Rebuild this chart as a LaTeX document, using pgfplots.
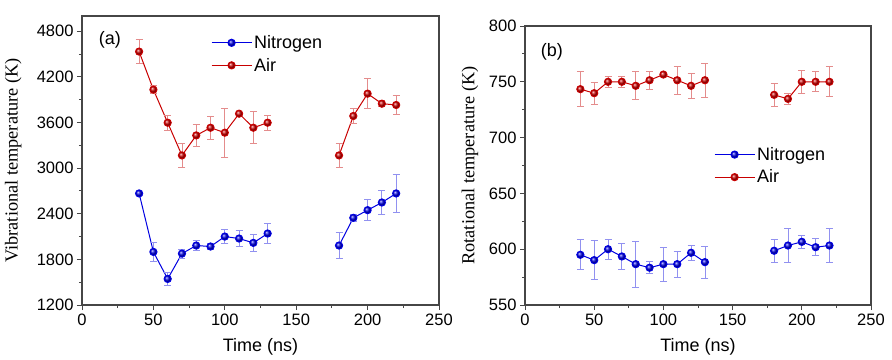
\documentclass[border=0pt]{standalone}
\usepackage{fontspec}
\setmainfont{Liberation Sans}
\newfontfamily\serifont{Liberation Serif}
\usepackage{pgfplots}
\pgfplotsset{compat=1.18}
\definecolor{myred}{RGB}{200,0,0}
\definecolor{myblue}{RGB}{0,0,225}
\definecolor{lightred}{RGB}{228,140,140}
\definecolor{lightblue}{RGB}{145,145,240}
\definecolor{framegray}{RGB}{70,70,70}
\pgfplotsset{
  common/.style={
    scale only axis,
    anchor=south west,
    xmin=0, xmax=250,
    xtick={0,50,100,150,200,250},
    minor x tick num=1,
    minor y tick num=1,
    axis line style={framegray, line width=1.1pt},
    tick style={framegray, line width=0.9pt},
    major tick length=5pt,
    minor tick length=3pt,
    tick align=outside,
    xtick pos=left, ytick pos=left,
    /pgf/number format/assume math mode=true,
    /pgf/number format/1000 sep={},
    tick label style={font=\fontsize{16.5}{18}\selectfont},
    xlabel style={font=\fontsize{18}{20}\selectfont, at={(axis description cs:0.5,0)}, anchor=center, yshift=-42pt},
    legend cell align=left,
    legend image code/.code={\draw[mark repeat=2, mark phase=2, ##1] plot coordinates {(0pt,0pt) (20pt,0pt) (40pt,0pt)};},
  },
  redp/.style={color=myred, line width=1pt, mark=ball, mark size=3.6pt, mark options={ball color=myred},
    error bars/y dir=both, error bars/y explicit,
    error bars/error bar style={lightred, line width=0.8pt},
    error bars/error mark options={rotate=90, lightred, mark size=3.5pt, line width=0.8pt}},
  bluep/.style={color=myblue, line width=1pt, mark=ball, mark size=3.6pt, mark options={ball color=myblue},
    error bars/y dir=both, error bars/y explicit,
    error bars/error bar style={lightblue, line width=0.8pt},
    error bars/error mark options={rotate=90, lightblue, mark size=3.5pt, line width=0.8pt}},
}
\begin{document}
\begin{tikzpicture}
\useasboundingbox (0,0) rectangle (892pt,359pt);
% ---------------- (a) ----------------
\begin{axis}[common,
  at={(82pt,54pt)}, width=357pt, height=289pt,
  ymin=1200, ymax=5000,
  ytick={1200,1800,2400,3000,3600,4200,4800},
  xlabel={Time (ns)},
  ylabel={\serifont Vibrational temperature (K)},
  ylabel style={font=\fontsize{18.3}{20}\selectfont, at={(axis description cs:-0.193,0.5)}, anchor=center},
  legend style={at={(rel axis cs:0.361,0.94)}, anchor=north west, draw=none, fill=none,
    font=\fontsize{18}{20}\selectfont, row sep=4pt, inner sep=0pt},
]
\addplot[bluep] table[x=x, y=y, y error=e] {
x y e
40 2667 20
50 1898 130
60 1543 90
70 1876 60
80 1982 70
90 1969 40
100 2100 95
110 2074 110
120 2017 110
130 2140 127
};
\addlegendentry{Nitrogen}
\addplot[redp] table[x=x, y=y, y error=e] {
x y e
40 4532 155
50 4032 50
60 3597 100
70 3167 155
80 3430 150
90 3531 155
100 3466 320
110 3716 20
120 3531 210
130 3597 100
};
\addlegendentry{Air}
\addplot[forget plot, bluep] table[x=x, y=y, y error=e] {
x y e
180 1982 175
190 2346 45
200 2447 140
210 2548 160
220 2667 255
};
\addplot[forget plot, redp] table[x=x, y=y, y error=e] {
x y e
180 3167 155
190 3685 100
200 3979 200
210 3847 40
220 3830 125
};
\node[font=\fontsize{18}{20}\selectfont] at (rel axis cs:0.078,0.917) {(a)};
\end{axis}
% ---------------- (b) ----------------
\begin{axis}[common,
  at={(525pt,54pt)}, width=346pt, height=279pt,
  ymin=550, ymax=800,
  ytick={550,600,650,700,750,800},
  xlabel={Time (ns)},
  ylabel={\serifont Rotational temperature (K)},
  ylabel style={font=\fontsize{18.3}{20}\selectfont, at={(axis description cs:-0.159,0.5)}, anchor=center},
  legend style={at={(rel axis cs:0.546,0.573)}, anchor=north west, draw=none, fill=none,
    font=\fontsize{18}{20}\selectfont, row sep=4pt, inner sep=0pt},
]
\addplot[bluep] table[x=x, y=y, y error=e] {
x y e
40 595.0 13.4
50 590.2 17.5
60 600.0 9.0
70 593.5 11.3
80 586.6 20.4
90 583.4 5.4
100 586.6 15.2
110 586.6 11.6
120 596.8 7.0
130 588.4 14.3
};
\addlegendentry{Nitrogen}
\addplot[redp] table[x=x, y=y, y error=e] {
x y e
40 743.4 15.5
50 739.8 10.0
60 750.0 5.0
70 750.0 5.0
80 746.4 12.6
90 751.4 8.0
100 756.5 1.0
110 751.4 12.7
120 746.4 11.0
130 751.4 15.5
};
\addlegendentry{Air}
\addplot[forget plot, bluep] table[x=x, y=y, y error=e] {
x y e
180 598.6 10.6
190 603.3 15.2
200 606.6 6.0
210 601.8 7.5
220 603.3 15.2
};
\addplot[forget plot, redp] table[x=x, y=y, y error=e] {
x y e
180 738.3 10.4
190 734.7 5.0
200 750.0 10.0
210 750.0 9.0
220 750.0 13.4
};
\node[font=\fontsize{18}{20}\selectfont] at (rel axis cs:0.078,0.907) {(b)};
\end{axis}
\end{tikzpicture}
\end{document}
